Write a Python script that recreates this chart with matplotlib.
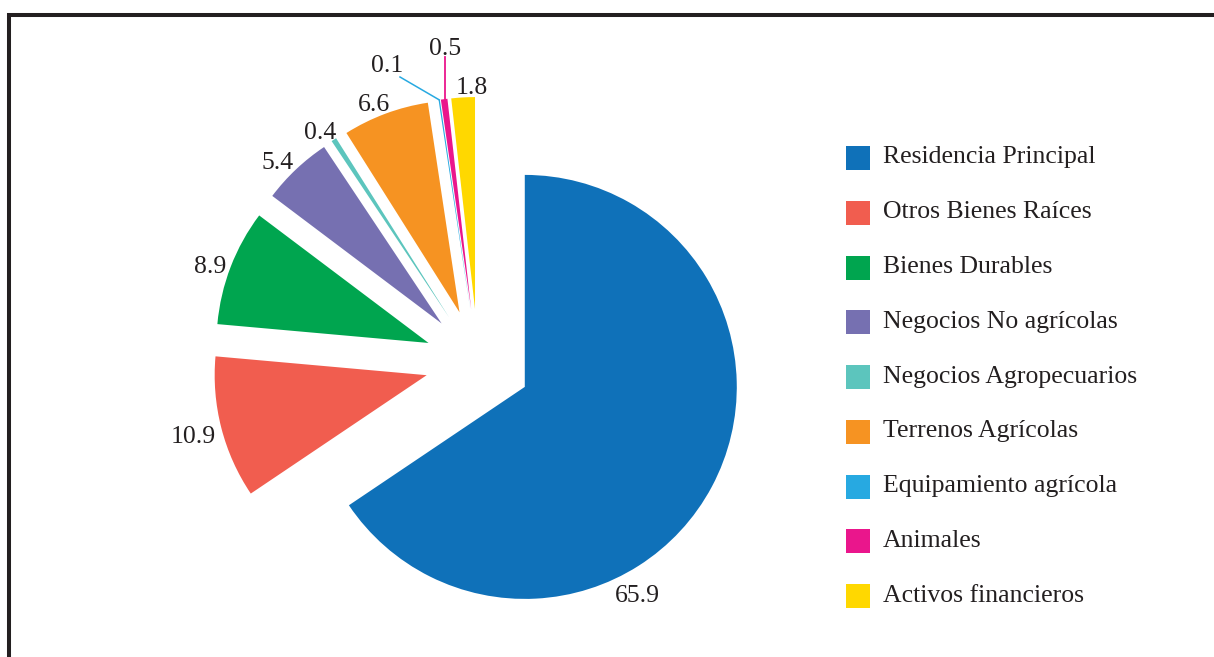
import numpy as np
import matplotlib
matplotlib.use('Agg')
import matplotlib.pyplot as plt
from matplotlib.patches import Rectangle

# composición de los activos (%)
categorias = ['Residencia Principal', 'Otros Bienes Raíces', 'Bienes Durables',
              'Negocios No agrícolas', 'Negocios Agropecuarios', 'Terrenos Agrícolas',
              'Equipamiento agrícola', 'Animales', 'Activos financieros']
valores = [65.9, 10.9, 8.9, 5.4, 0.4, 6.6, 0.1, 0.5, 1.8]
colores = ['#0f71b9', '#f15d4f', '#00a54f', '#7670b1', '#5cc5bd',
           '#f69322', '#27a9e1', '#ea168c', '#ffd800']

W, H = 1214, 657
texto = '#231f20'
plt.rcParams['font.family'] = ['Liberation Serif', 'DejaVu Serif']

def px(x, y):
    # coordenadas de pixel (origen arriba a la izquierda) -> datos
    return x, H - y

fig = plt.figure(figsize=(W / 100, H / 100), dpi=100)
ax = fig.add_axes([0, 0, 1, 1])

radio = 212
wedges, _ = ax.pie(valores, colors=colores, startangle=90, counterclock=False,
                   center=px(478, 362), radius=radio, explode=[53] * len(valores))
ax.set_xlim(0, W)
ax.set_ylim(0, H)
ax.set_aspect('auto')
ax.axis('off')

# etiquetas de valor (posición de la línea base)
pos_etiquetas = [(637, 602), (193, 443), (210, 273), (278, 169), (320, 139),
                 (374, 111), (387, 72), (445, 55), (472, 94)]
for v, (x, y) in zip(valores, pos_etiquetas):
    ax.text(*px(x, y), f'{v}', ha='center', va='baseline',
            fontsize=18.5, color=texto)

def punta(w):
    t = np.deg2rad((w.theta1 + w.theta2) / 2)
    return w.center[0] + w.r * np.cos(t), w.center[1] + w.r * np.sin(t)

# líneas guía para los sectores muy pequeños
xe, ye = punta(wedges[6])
x0, y0 = px(400, 77)
ax.plot([x0, xe], [y0, ye], color=colores[6], lw=1.1)
xa, ya = punta(wedges[7])
ax.plot([xa + 1, xa + 1], [px(0, 57)[1], ya], color=colores[7], lw=1.3)

# leyenda
for i, (cat, col) in enumerate(zip(categorias, colores)):
    yc = 158 + i * 54.75
    x, y = px(846, yc + 12)
    ax.add_patch(Rectangle((x, y), 24, 24, facecolor=col, edgecolor='none'))
    ax.text(*px(883, yc + 5.5), cat, ha='left', va='baseline',
            fontsize=18.5, color=texto)

# marco
fx, fy = px(8.7, 15.3)
ax.plot([fx, fx, W + 20], [-20, fy, fy], color=texto, lw=2.9,
        solid_joinstyle='miter', clip_on=False)

fig.savefig('out.png', dpi=100)
